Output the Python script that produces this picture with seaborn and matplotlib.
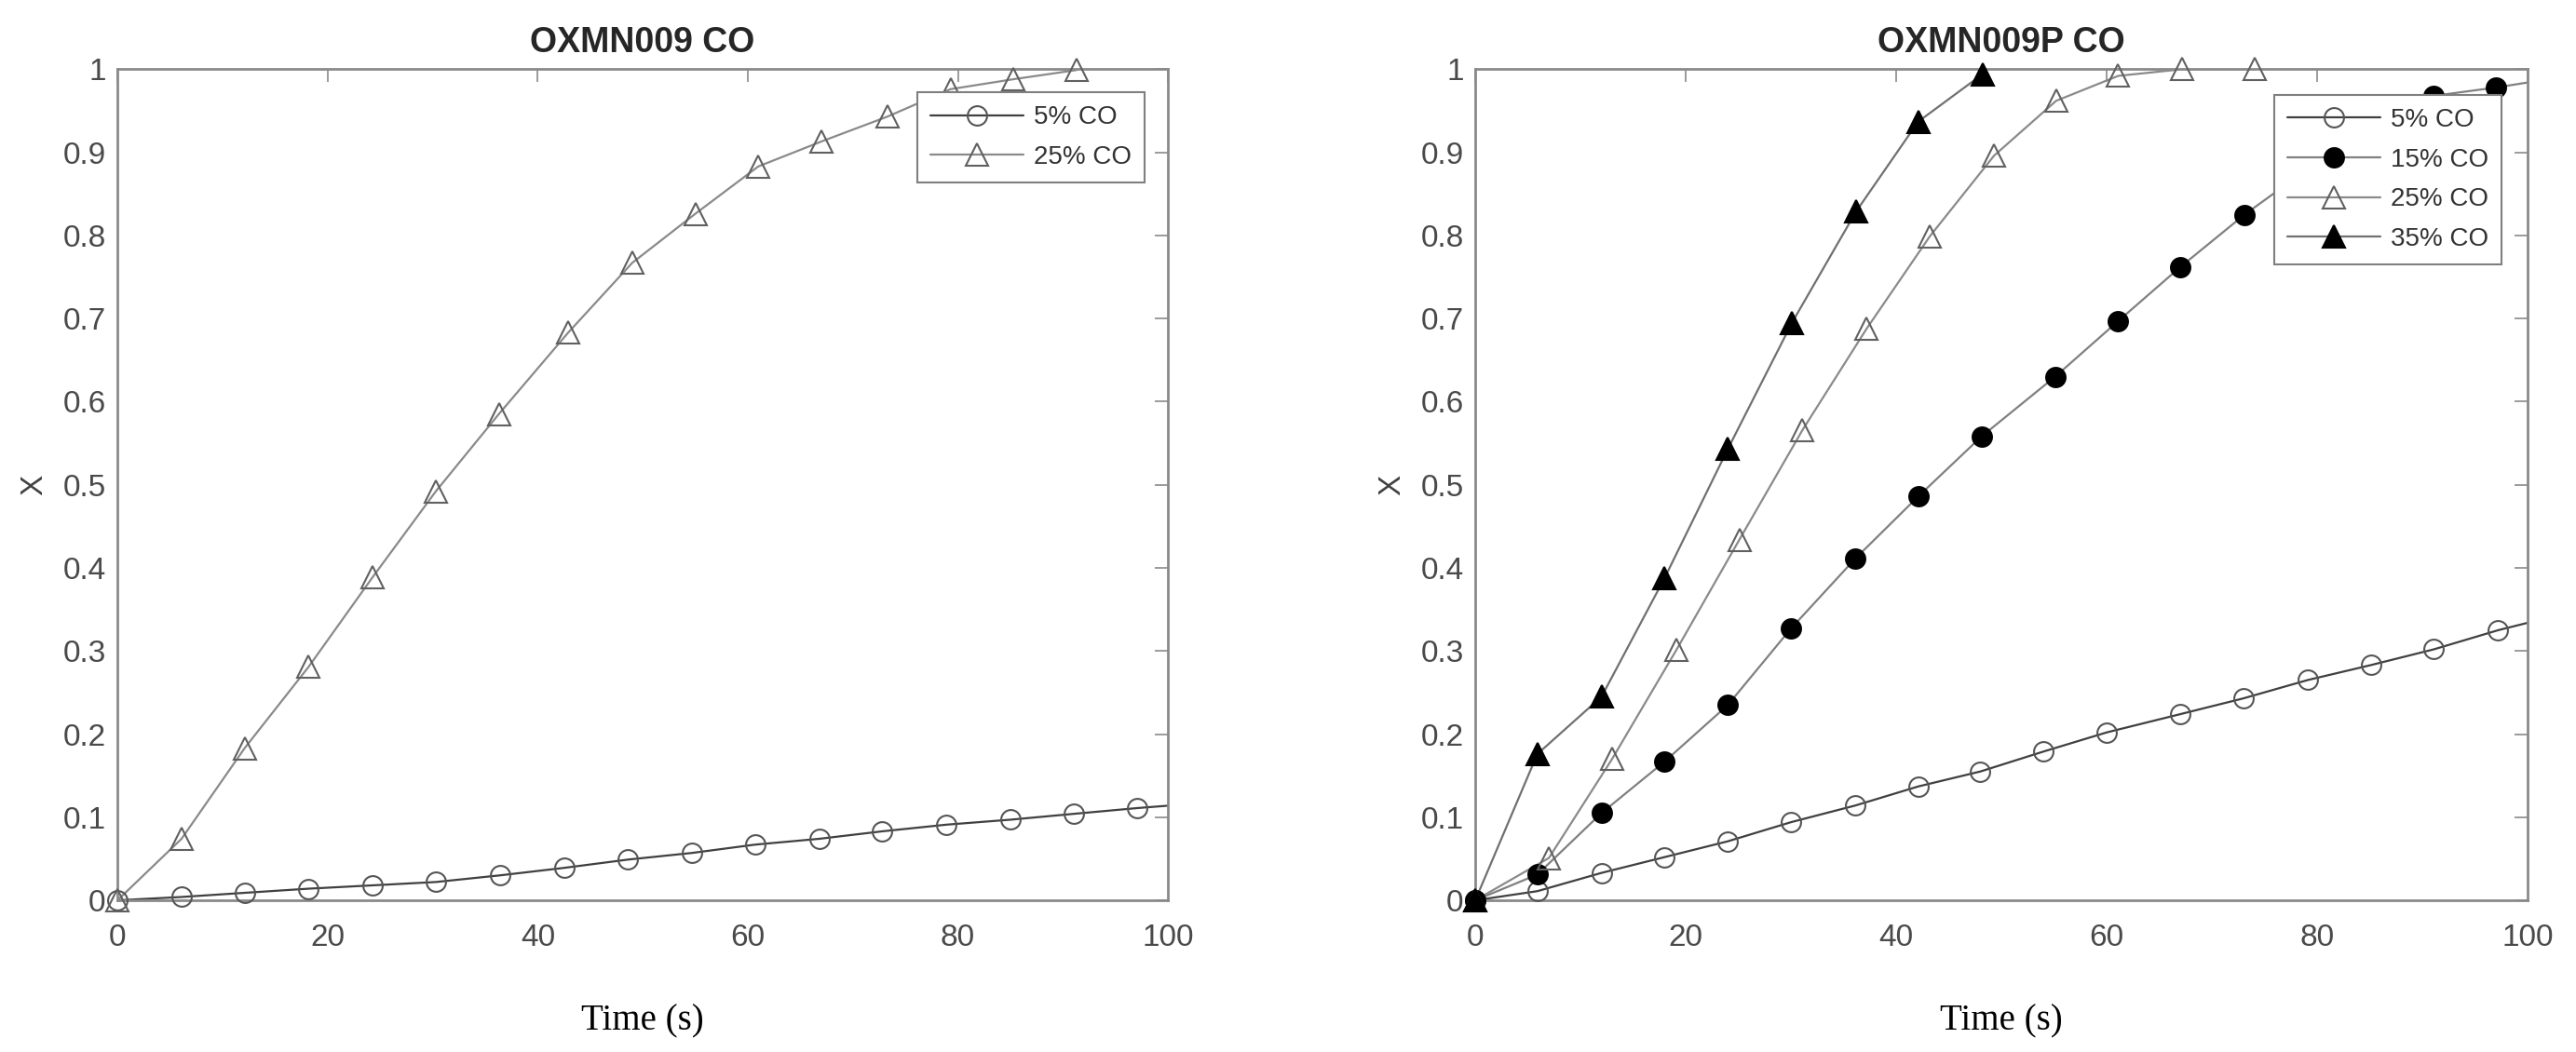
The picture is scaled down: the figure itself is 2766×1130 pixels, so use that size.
import matplotlib
matplotlib.use("Agg")
import numpy as np
import pandas as pd
import seaborn as sns
import matplotlib.pyplot as plt
from matplotlib.lines import Line2D
from matplotlib.ticker import FuncFormatter

# ---- OXMN009 CO (left) ----
t5_left = [0, 6.1, 12.1, 18.2, 24.3, 30.3, 36.4, 42.5, 48.6, 54.7, 60.7, 66.8, 72.8, 78.9, 85.0, 91.0, 97.1, 103.2]
x5_left = [0, 0.004, 0.009, 0.014, 0.018, 0.022, 0.030, 0.039, 0.049, 0.057, 0.067, 0.074, 0.083, 0.091, 0.097, 0.104, 0.111, 0.117]
t25_left = [0, 6.1, 12.1, 18.2, 24.3, 30.3, 36.3, 42.9, 49.0, 55.0, 61.0, 67.0, 73.3, 79.3, 85.3, 91.3]
x25_left = [0, 0.074, 0.183, 0.281, 0.389, 0.492, 0.585, 0.683, 0.767, 0.826, 0.883, 0.913, 0.943, 0.976, 0.988, 0.999]

# ---- OXMN009P CO (right) ----
t5_right = [0, 5.9, 12.0, 18.0, 24.0, 30.0, 36.1, 42.1, 48.0, 54.0, 60.0, 67.0, 73.0, 79.1, 85.1, 91.1, 97.2, 103.2]
x5_right = [0, 0.011, 0.033, 0.052, 0.071, 0.094, 0.114, 0.137, 0.155, 0.179, 0.202, 0.224, 0.243, 0.265, 0.283, 0.302, 0.325, 0.344]
t15_right = [0, 5.9, 12.0, 18.0, 24.0, 30.0, 36.1, 42.1, 48.1, 55.1, 61.1, 67.0, 73.1, 79.1, 85.1, 91.1, 97.0, 103.0]
x15_right = [0, 0.031, 0.105, 0.167, 0.235, 0.327, 0.411, 0.486, 0.558, 0.630, 0.697, 0.762, 0.825, 0.880, 0.930, 0.968, 0.978, 0.990]
t25_right = [0, 7.0, 13.0, 19.1, 25.1, 31.1, 37.2, 43.2, 49.3, 55.2, 61.1, 67.2, 74.1]
x25_right = [0, 0.051, 0.170, 0.301, 0.434, 0.566, 0.688, 0.799, 0.896, 0.962, 0.992, 1.0, 1.0]
t35_right = [0, 5.9, 12.0, 18.0, 24.0, 30.1, 36.2, 42.1, 48.2]
x35_right = [0, 0.176, 0.245, 0.388, 0.543, 0.695, 0.829, 0.937, 0.994]

x_ticks = [0, 20, 40, 60, 80, 100]
y_ticks = np.arange(0, 1.01, 0.1)

sns.set_style("white")
plt.rcParams["font.family"] = ["Liberation Sans", "DejaVu Sans"]

TICK_GREY = "#4a4a4a"
SPINE_GREY = "#8a8a8a"
LW = 1.6

fig = plt.figure(figsize=(27.66, 11.3), dpi=100)
ax_l = fig.add_axes([0.0456, 0.1442, 0.4078, 0.790])
ax_r = fig.add_axes([0.5727, 0.1442, 0.4085, 0.790])


def draw_series(ax, t, x, label, line_color, marker, face, edge, size):
    df = pd.DataFrame({"t": t, "x": x})
    sns.lineplot(data=df, x="t", y="x", ax=ax, color=line_color, lw=LW,
                 estimator=None, sort=False, legend=False)
    inside = df[df["t"] <= 100]
    ax.plot(inside["t"], inside["x"], linestyle="none", marker=marker, ms=size,
            mfc=face, mec=edge, mew=1.5, clip_on=False, zorder=3)
    return Line2D([], [], color=line_color, lw=LW, marker=marker, ms=size,
                  mfc=face, mec=edge, mew=1.5, label=label)


def style_axes(ax, title, legend_handles, anchor):
    ax.set_xlim(0, 100)
    ax.set_ylim(0, 1)
    ax.set_xticks(x_ticks)
    ax.set_yticks(y_ticks)
    ax.yaxis.set_major_formatter(FuncFormatter(lambda v, p: f"{v:g}"))
    ax.tick_params(direction="in", length=10, width=1.2, top=True, right=True,
                   labelsize=24, color=SPINE_GREY, labelcolor=TICK_GREY)
    ax.tick_params(axis="x", pad=18)
    ax.tick_params(axis="y", pad=9)
    for sp in ax.spines.values():
        sp.set_visible(True)
        sp.set_color(SPINE_GREY)
        sp.set_linewidth(2)
    ax.set_title(title, fontsize=27, fontweight="bold", pad=13)
    ax.set_xlabel("Time (s)", fontsize=28, labelpad=40,
                  fontfamily=["Liberation Serif", "DejaVu Serif"], color="black")
    ax.set_ylabel("X", fontsize=24, labelpad=11, color="#404040")
    leg = ax.legend(handles=legend_handles, loc="upper right", bbox_to_anchor=anchor,
                    borderaxespad=0, fontsize=20, handlelength=3.6, handletextpad=0.4,
                    labelspacing=0.6, borderpad=0.5, frameon=True, fancybox=False,
                    edgecolor="#7f7f7f", framealpha=1, labelcolor="#333333")
    leg.get_frame().set_linewidth(1.5)


# left panel
h_left = [
    draw_series(ax_l, t5_left, x5_left, "5% CO", "#404040", "o", "none", "#555555", 15),
    draw_series(ax_l, t25_left, x25_left, "25% CO", "#8a8a8a", "^", "none", "#606060", 17),
]
style_axes(ax_l, "OXMN009 CO", h_left, (0.978, 0.972))

# right panel
h_right = [
    draw_series(ax_r, t5_right, x5_right, "5% CO", "#404040", "o", "none", "#555555", 15),
    draw_series(ax_r, t15_right, x15_right, "15% CO", "#808080", "o", "black", "black", 15),
    draw_series(ax_r, t25_right, x25_right, "25% CO", "#8a8a8a", "^", "none", "#606060", 17),
    draw_series(ax_r, t35_right, x35_right, "35% CO", "#707070", "^", "black", "black", 17),
]
style_axes(ax_r, "OXMN009P CO", h_right, (0.975, 0.969))

fig.savefig("out.png", dpi=100)
